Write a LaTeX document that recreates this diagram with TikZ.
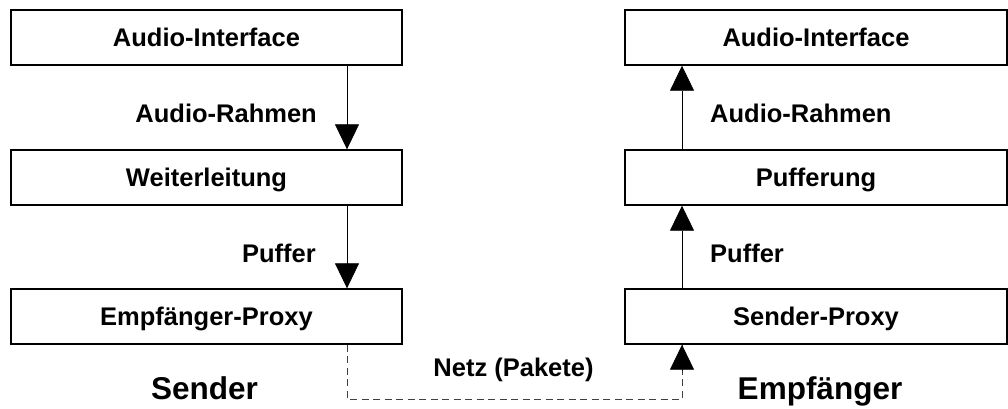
\documentclass[tikz,border=0pt]{standalone}
\usepackage{fontspec}
\setmainfont{Liberation Sans}
\usetikzlibrary{arrows.meta,positioning}

\begin{document}
\begin{tikzpicture}[
  x=1pt, y=1pt,
  every node/.style={font=\fontsize{25.5}{30}\selectfont\bfseries, inner sep=0pt, text height=18.5pt, text depth=0pt},
  lbox/.style={draw, line width=1.4pt, minimum width=391pt, minimum height=55pt},
  rbox/.style={draw, line width=1.4pt, minimum width=382pt, minimum height=55pt},
  side/.style={font=\fontsize{31.5}{36}\selectfont\bfseries, text height=23pt},
  flow/.style={draw, line width=0.8pt, -{Triangle[length=25pt, width=24pt]}},
  net/.style={draw, line width=0.8pt, black!75, dash pattern=on 7pt off 4.5pt}
]
\useasboundingbox (0,0) rectangle (1008,-408);
\coordinate (lx) at (347,0);
\coordinate (rx) at (682,0);

\node[lbox] (sai) at (206.5,-37.5) {Audio-Interface};
\node[lbox] (swl) at (206.5,-177.5) {Weiterleitung};
\node[lbox] (sep) at (206.5,-316.5) {Empfänger-Proxy};
\node[rbox] (eai) at (816,-37.5) {Audio-Interface};
\node[rbox] (epu) at (816,-177.5) {Pufferung};
\node[rbox] (esp) at (816,-316.5) {Sender-Proxy};

\draw[flow] (sai.south -| lx) -- (swl.north -| lx);
\draw[flow] (swl.south -| lx) -- (sep.north -| lx);
\draw[flow] (epu.north -| rx) -- (eai.south -| rx);
\draw[flow] (esp.north -| rx) -- (epu.south -| rx);
% network path, solid head on the receiving side
\draw[net] (sep.south -| lx) -- ++(0,-54.5) -| (esp.south -| rx);
\draw[flow] ([yshift=-25pt]esp.south -| rx) -- (esp.south -| rx);

\node[anchor=east] (sra) at (317,-113.5) {Audio-Rahmen};
\node[anchor=east] (spf) at (316,-253) {Puffer};
\node[anchor=west] (era) at (710,-113.5) {Audio-Rahmen};
\node[anchor=west] (epf) at (710,-253) {Puffer};
\node (netz) at (513.5,-367) {Netz (Pakete)};
\node[side] (snd) at (204.5,-387.5) {Sender};
\node[side] (emp) at (820,-387.5) {Empfänger};
\end{tikzpicture}
\end{document}
